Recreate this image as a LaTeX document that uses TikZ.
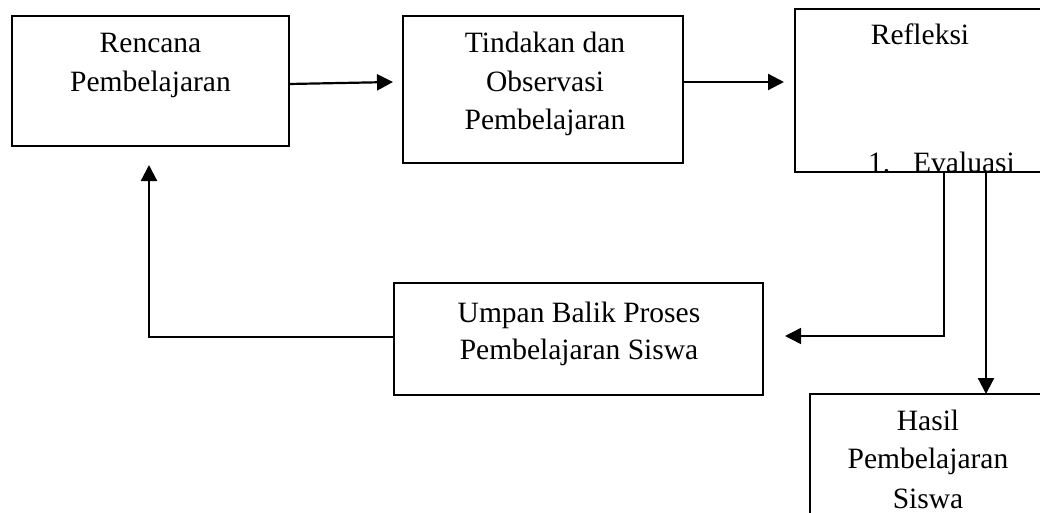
\documentclass[tikz,border=0pt]{standalone}
\usepackage{fontspec}
\setmainfont{Liberation Serif}
\usetikzlibrary{arrows.meta}
\begin{document}
\begin{tikzpicture}[x=1pt,y=-1pt,
  box/.style={draw=black,line width=1.5pt,rectangle,inner sep=0pt,outer sep=0pt,anchor=north west},
  txt/.style={inner sep=0pt,anchor=base,font=\fontsize{29.5}{38}\selectfont},
  arr/.style={draw=black,line width=2.2pt,-{Triangle[length=16pt,width=16pt]}},
  thinarr/.style={draw=black,line width=1.5pt,-{Triangle[length=16pt,width=16pt]}}]
\useasboundingbox (0,0) rectangle (1040,513);
\fill[white] (0,0) rectangle (1040,513);
% boxes
\node[box,minimum width=277pt,minimum height=130pt] (b1) at (12,16) {};
\node[box,minimum width=280pt,minimum height=147pt] (b2) at (403,16) {};
\node[box,minimum width=250pt,minimum height=163pt] (b3) at (795,9) {};
\node[box,minimum width=369pt,minimum height=112pt] (b4) at (394,283) {};
\node[box,minimum width=236pt,minimum height=200pt] (b5) at (810,394) {};
% texts
\node[txt] (t1a) at (150.5,53) {Rencana};
\node[txt] (t1b) at (150.5,92) {Pembelajaran};
\node[txt] (t2a) at (545,53) {Tindakan dan};
\node[txt] (t2b) at (545,92) {Observasi};
\node[txt] (t2c) at (545,130) {Pembelajaran};
\node[txt] (t3a) at (920,45) {Refleksi};
\begin{scope}
\clip (b3.north west) rectangle (b3.south east);
\node[txt,anchor=base west] (t3b) at (868,172) {1.};
\node[txt,anchor=base west] (t3c) at (913,172) {Evaluasi};
\end{scope}
\node[txt] (t4a) at (579,322) {Umpan Balik Proses};
\node[txt] (t4b) at (579,359) {Pembelajaran Siswa};
\node[txt] (t5a) at (928,430) {Hasil};
\node[txt] (t5b) at (928,468) {Pembelajaran};
\node[txt] (t5c) at (928,508) {Siswa};
% connectors
\draw[arr] ([yshift=-3pt]b1.east) -- ([xshift=-10pt,yshift=7.5pt]b2.west);
\draw[arr] ([yshift=7.5pt]b2.east) -- ([xshift=-11pt,yshift=8.5pt]b3.west);
\draw[thinarr] ([xshift=24pt]b3.south) |- ([xshift=22pt,yshift=3pt]b4.east);
\draw[arr] ([xshift=66pt]b3.south) -- ([xshift=58pt]b5.north);
\draw[arr] ([yshift=2pt]b4.west) -| ([xshift=-1.5pt,yshift=-19pt]b1.south);
\end{tikzpicture}
\end{document}
